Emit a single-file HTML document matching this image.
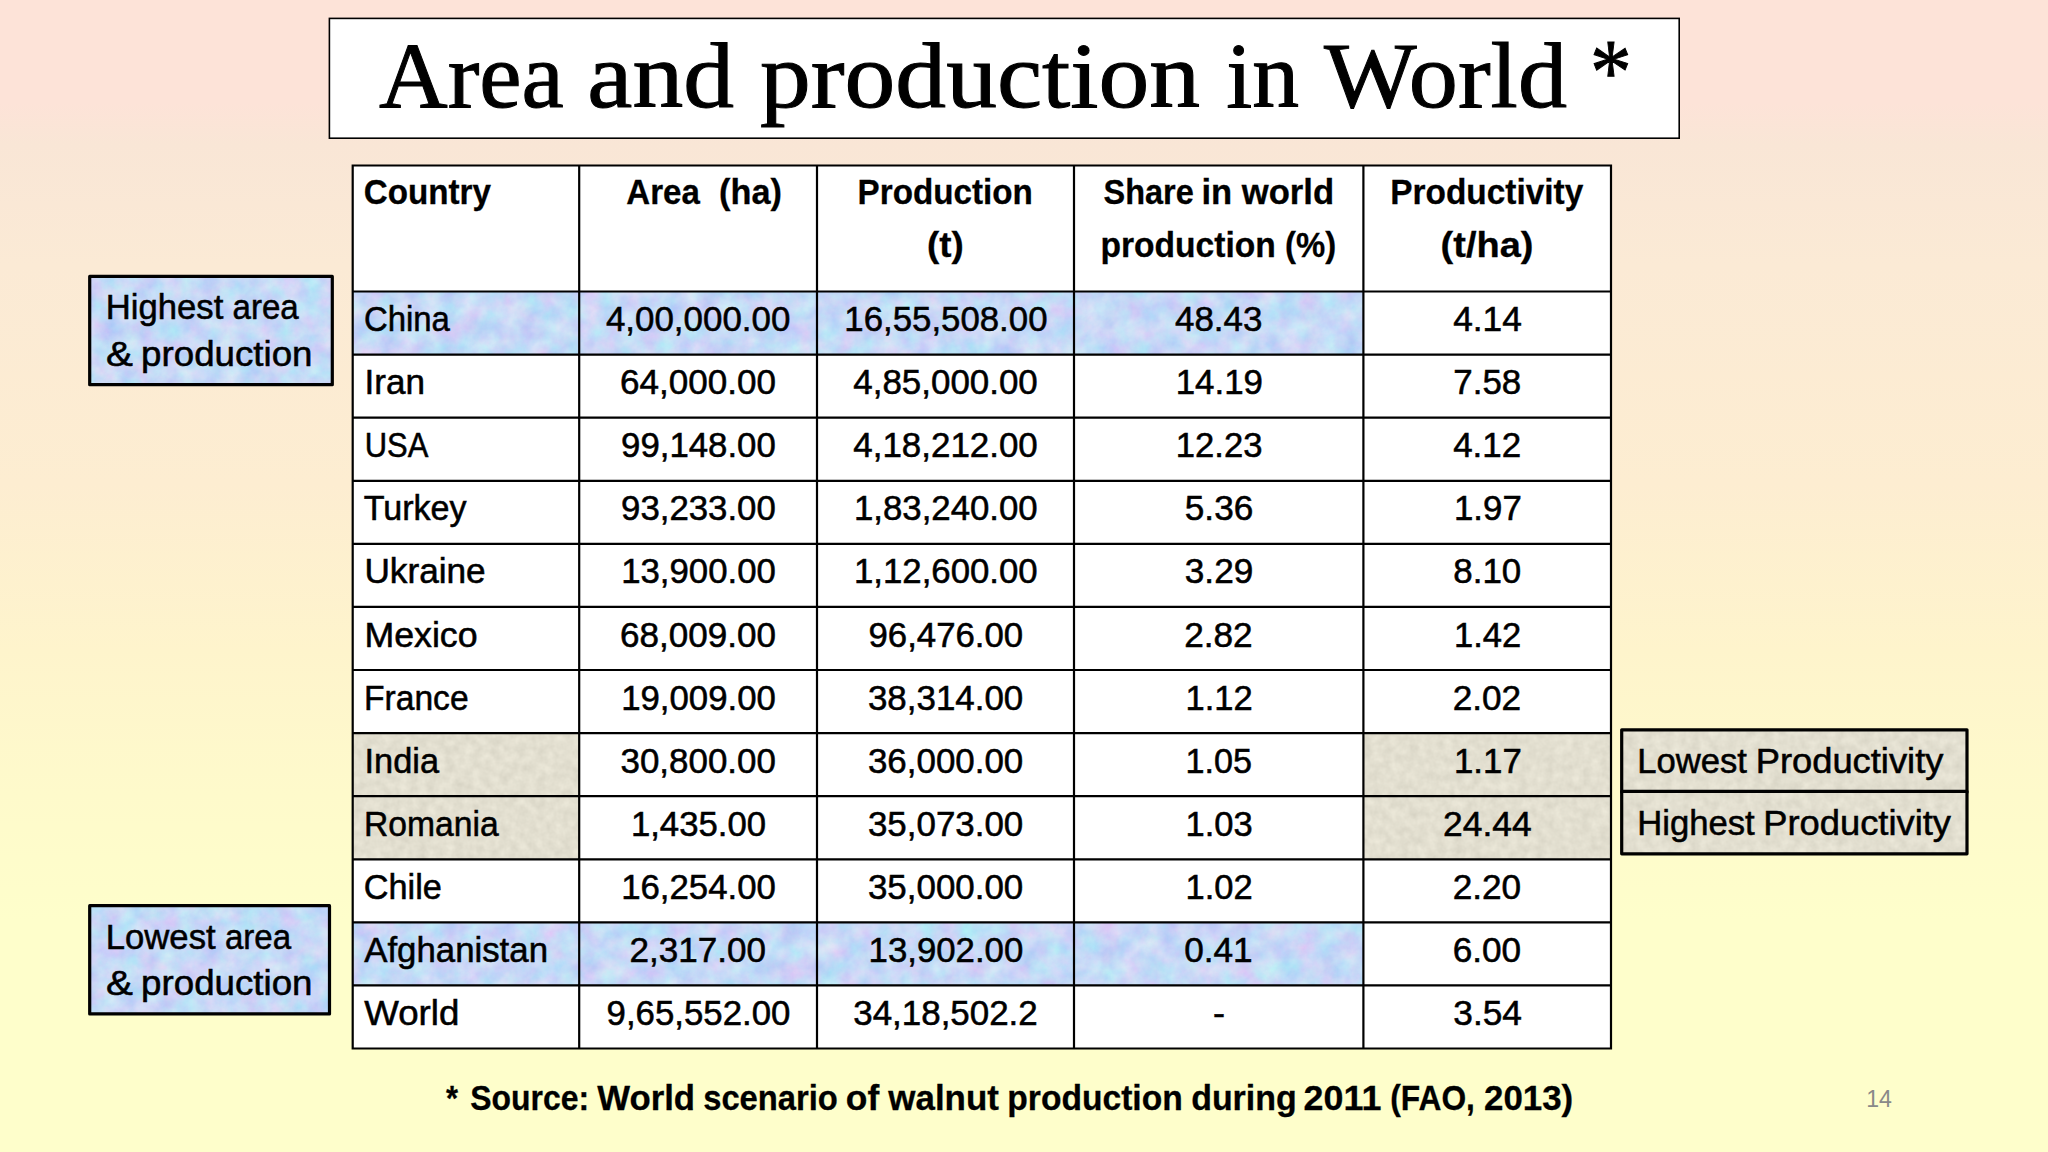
<!DOCTYPE html>
<html lang="en"><head><meta charset="utf-8"><title>Area and production in World</title>
<style>
html,body{margin:0;padding:0;width:2048px;height:1152px;overflow:hidden}
body{background:#fefecb}
svg{position:absolute;left:0;top:0;display:block}
text{white-space:pre}
.s{font-family:"Liberation Sans",sans-serif}
.t{font-family:"Liberation Serif",serif}
</style></head><body>
<svg width="2048" height="1152" viewBox="0 0 2048 1152">
<defs>
<linearGradient id="bg" x1="0" y1="0" x2="0" y2="1">
<stop offset="0" stop-color="#fde3d8"/>
<stop offset="0.09" stop-color="#fde3d8"/>
<stop offset="0.125" stop-color="#f9e6d6"/>
<stop offset="0.23" stop-color="#fbead5"/>
<stop offset="0.42" stop-color="#fdedd1"/>
<stop offset="0.565" stop-color="#fef4cc"/>
<stop offset="0.69" stop-color="#fefacb"/>
<stop offset="0.80" stop-color="#fefecb"/>
<stop offset="1" stop-color="#fefecb"/>
</linearGradient>
<filter id="fb" x="0" y="0" width="100%" height="100%" color-interpolation-filters="sRGB">
<feTurbulence type="fractalNoise" baseFrequency="0.05" numOctaves="5" seed="11" result="n"/>
<feColorMatrix in="n" type="matrix" values="0.26 0 0 0 0.645  0 0.20 0 0 0.75  0 0 0.03 0 0.952  0 0 0 0 1"/>
</filter>
<filter id="fg" x="0" y="0" width="100%" height="100%" color-interpolation-filters="sRGB">
<feTurbulence type="fractalNoise" baseFrequency="0.11" numOctaves="3" seed="3" result="n"/>
<feColorMatrix in="n" type="matrix" values="0.10 0 0 0 0.838  0.10 0 0 0 0.824  0.10 0 0 0 0.765  0 0 0 0 1"/>
</filter>
</defs>
<rect x="0" y="0" width="2048" height="1152" fill="url(#bg)"/>
<rect x="329.4" y="18.4" width="1349.8" height="119.8" fill="#fff" stroke="#000" stroke-width="1.6"/>
<rect x="352.7" y="165.5" width="1258.3" height="883.0" fill="#fff"/>
<rect x="352.7" y="291.5" width="226.5" height="63.1" fill="#c6d6f4" filter="url(#fb)"/>
<rect x="579.2" y="291.5" width="237.8" height="63.1" fill="#c6d6f4" filter="url(#fb)"/>
<rect x="817.0" y="291.5" width="257.0" height="63.1" fill="#c6d6f4" filter="url(#fb)"/>
<rect x="1074.0" y="291.5" width="289.4" height="63.1" fill="#c6d6f4" filter="url(#fb)"/>
<rect x="352.7" y="922.4" width="226.5" height="63.1" fill="#c6d6f4" filter="url(#fb)"/>
<rect x="579.2" y="922.4" width="237.8" height="63.1" fill="#c6d6f4" filter="url(#fb)"/>
<rect x="817.0" y="922.4" width="257.0" height="63.1" fill="#c6d6f4" filter="url(#fb)"/>
<rect x="1074.0" y="922.4" width="289.4" height="63.1" fill="#c6d6f4" filter="url(#fb)"/>
<rect x="352.7" y="733.1" width="226.5" height="63.1" fill="#dedbca" filter="url(#fg)"/>
<rect x="352.7" y="796.2" width="226.5" height="63.1" fill="#dedbca" filter="url(#fg)"/>
<rect x="1363.4" y="733.1" width="247.6" height="63.1" fill="#dedbca" filter="url(#fg)"/>
<rect x="1363.4" y="796.2" width="247.6" height="63.1" fill="#dedbca" filter="url(#fg)"/>
<path d="M352.7 164.4V1049.6M579.2 164.4V1049.6M817 164.4V1049.6M1074 164.4V1049.6M1363.4 164.4V1049.6M1611 164.4V1049.6M351.6 165.5H1612.1M351.6 291.5H1612.1M351.6 354.6H1612.1M351.6 417.7H1612.1M351.6 480.8H1612.1M351.6 543.8H1612.1M351.6 606.9H1612.1M351.6 670.0H1612.1M351.6 733.1H1612.1M351.6 796.2H1612.1M351.6 859.3H1612.1M351.6 922.4H1612.1M351.6 985.4H1612.1M351.6 1048.5H1612.1" fill="none" stroke="#000" stroke-width="2.2"/>
<rect x="89.7" y="276.4" width="242.6" height="108.3" fill="#c6d6f4" filter="url(#fb)"/><rect x="89.7" y="276.4" width="242.6" height="108.3" fill="none" stroke="#000" stroke-width="3.2" stroke-linejoin="round"/>
<rect x="89.7" y="905.7" width="239.8" height="108.2" fill="#c6d6f4" filter="url(#fb)"/><rect x="89.7" y="905.7" width="239.8" height="108.2" fill="none" stroke="#000" stroke-width="3.2" stroke-linejoin="round"/>
<rect x="1621.7" y="729.8" width="345.3" height="62.4" fill="#dedbca" filter="url(#fg)"/><rect x="1621.7" y="729.8" width="345.3" height="62.4" fill="none" stroke="#000" stroke-width="3.2" stroke-linejoin="round"/>
<rect x="1621.7" y="791.4" width="345.3" height="62.4" fill="#dedbca" filter="url(#fg)"/><rect x="1621.7" y="791.4" width="345.3" height="62.4" fill="none" stroke="#000" stroke-width="3.2" stroke-linejoin="round"/>
<text class="t" y="106.9" font-size="93.87" stroke="#000" stroke-width="1.0"><tspan x="379.0" textLength="184.8" lengthAdjust="spacingAndGlyphs">Area</tspan> <tspan x="587.3" textLength="146.7" lengthAdjust="spacingAndGlyphs">and</tspan> <tspan x="759.9" textLength="440.2" lengthAdjust="spacingAndGlyphs">production</tspan> <tspan x="1226.2" textLength="72.9" lengthAdjust="spacingAndGlyphs">in</tspan> <tspan x="1324.0" textLength="243.0" lengthAdjust="spacingAndGlyphs">World</tspan> <tspan x="1589.9" y="102.5" textLength="41.7" lengthAdjust="spacingAndGlyphs">*</tspan></text>
<text class="s" x="363.8" y="204.3" font-size="34.94" font-weight="700" stroke="#000" stroke-width="0.3" textLength="127.2" lengthAdjust="spacingAndGlyphs">Country</text>
<text class="s" y="204.3" font-size="34.94" font-weight="700" stroke="#000" stroke-width="0.3"><tspan x="626.3" textLength="73.5" lengthAdjust="spacingAndGlyphs">Area</tspan> <tspan x="719.1" textLength="62.8" lengthAdjust="spacingAndGlyphs">(ha)</tspan></text>
<text class="s" x="857.6" y="204.3" font-size="34.94" font-weight="700" stroke="#000" stroke-width="0.3" textLength="175.1" lengthAdjust="spacingAndGlyphs">Production</text>
<text class="s" x="927.0" y="257.3" font-size="34.94" font-weight="700" stroke="#000" stroke-width="0.3" textLength="36.7" lengthAdjust="spacingAndGlyphs">(t)</text>
<text class="s" y="204.3" font-size="34.94" font-weight="700" stroke="#000" stroke-width="0.3"><tspan x="1103.6" textLength="90.2" lengthAdjust="spacingAndGlyphs">Share</tspan> <tspan x="1201.5" textLength="30.7" lengthAdjust="spacingAndGlyphs">in</tspan> <tspan x="1241.8" textLength="92.3" lengthAdjust="spacingAndGlyphs">world</tspan></text>
<text class="s" y="257.3" font-size="34.94" font-weight="700" stroke="#000" stroke-width="0.3"><tspan x="1100.4" textLength="175.4" lengthAdjust="spacingAndGlyphs">production</tspan> <tspan x="1285.1" textLength="51.1" lengthAdjust="spacingAndGlyphs">(%)</tspan></text>
<text class="s" x="1390.3" y="204.3" font-size="34.94" font-weight="700" stroke="#000" stroke-width="0.3" textLength="193.0" lengthAdjust="spacingAndGlyphs">Productivity</text>
<text class="s" x="1440.6" y="257.3" font-size="34.94" font-weight="700" stroke="#000" stroke-width="0.3" textLength="92.9" lengthAdjust="spacingAndGlyphs">(t/ha)</text>
<text class="s" x="363.9" y="331.1" font-size="34.94" stroke="#000" stroke-width="0.55" textLength="86.0" lengthAdjust="spacingAndGlyphs">China</text>
<text class="s" x="605.9" y="331.1" font-size="34.94" stroke="#000" stroke-width="0.55" textLength="184.5" lengthAdjust="spacingAndGlyphs">4,00,000.00</text>
<text class="s" x="844.3" y="331.1" font-size="34.94" stroke="#000" stroke-width="0.55" textLength="203.2" lengthAdjust="spacingAndGlyphs">16,55,508.00</text>
<text class="s" x="1175.0" y="331.1" font-size="34.94" stroke="#000" stroke-width="0.55" textLength="87.4" lengthAdjust="spacingAndGlyphs">48.43</text>
<text class="s" x="1453.2" y="331.1" font-size="34.94" stroke="#000" stroke-width="0.55" textLength="68.6" lengthAdjust="spacingAndGlyphs">4.14</text>
<text class="s" x="364.5" y="394.2" font-size="34.94" stroke="#000" stroke-width="0.55" textLength="60.4" lengthAdjust="spacingAndGlyphs">Iran</text>
<text class="s" x="619.9" y="394.2" font-size="34.94" stroke="#000" stroke-width="0.55" textLength="156.0" lengthAdjust="spacingAndGlyphs">64,000.00</text>
<text class="s" x="853.3" y="394.2" font-size="34.94" stroke="#000" stroke-width="0.55" textLength="184.5" lengthAdjust="spacingAndGlyphs">4,85,000.00</text>
<text class="s" x="1175.7" y="394.2" font-size="34.94" stroke="#000" stroke-width="0.55" textLength="87.3" lengthAdjust="spacingAndGlyphs">14.19</text>
<text class="s" x="1453.3" y="394.2" font-size="34.94" stroke="#000" stroke-width="0.55" textLength="67.9" lengthAdjust="spacingAndGlyphs">7.58</text>
<text class="s" x="364.7" y="457.3" font-size="34.94" stroke="#000" stroke-width="0.55" textLength="63.6" lengthAdjust="spacingAndGlyphs">USA</text>
<text class="s" x="621.1" y="457.3" font-size="34.94" stroke="#000" stroke-width="0.55" textLength="154.7" lengthAdjust="spacingAndGlyphs">99,148.00</text>
<text class="s" x="853.3" y="457.3" font-size="34.94" stroke="#000" stroke-width="0.55" textLength="184.5" lengthAdjust="spacingAndGlyphs">4,18,212.00</text>
<text class="s" x="1175.8" y="457.3" font-size="34.94" stroke="#000" stroke-width="0.55" textLength="86.6" lengthAdjust="spacingAndGlyphs">12.23</text>
<text class="s" x="1453.2" y="457.3" font-size="34.94" stroke="#000" stroke-width="0.55" textLength="68.0" lengthAdjust="spacingAndGlyphs">4.12</text>
<text class="s" x="363.7" y="520.4" font-size="34.94" stroke="#000" stroke-width="0.55" textLength="102.9" lengthAdjust="spacingAndGlyphs">Turkey</text>
<text class="s" x="621.1" y="520.4" font-size="34.94" stroke="#000" stroke-width="0.55" textLength="154.7" lengthAdjust="spacingAndGlyphs">93,233.00</text>
<text class="s" x="854.0" y="520.4" font-size="34.94" stroke="#000" stroke-width="0.55" textLength="183.7" lengthAdjust="spacingAndGlyphs">1,83,240.00</text>
<text class="s" x="1184.8" y="520.4" font-size="34.94" stroke="#000" stroke-width="0.55" textLength="68.5" lengthAdjust="spacingAndGlyphs">5.36</text>
<text class="s" x="1454.0" y="520.4" font-size="34.94" stroke="#000" stroke-width="0.55" textLength="67.8" lengthAdjust="spacingAndGlyphs">1.97</text>
<text class="s" x="364.4" y="583.4" font-size="34.94" stroke="#000" stroke-width="0.55" textLength="121.3" lengthAdjust="spacingAndGlyphs">Ukraine</text>
<text class="s" x="621.2" y="583.4" font-size="34.94" stroke="#000" stroke-width="0.55" textLength="154.7" lengthAdjust="spacingAndGlyphs">13,900.00</text>
<text class="s" x="854.0" y="583.4" font-size="34.94" stroke="#000" stroke-width="0.55" textLength="183.7" lengthAdjust="spacingAndGlyphs">1,12,600.00</text>
<text class="s" x="1184.8" y="583.4" font-size="34.94" stroke="#000" stroke-width="0.55" textLength="68.5" lengthAdjust="spacingAndGlyphs">3.29</text>
<text class="s" x="1453.3" y="583.4" font-size="34.94" stroke="#000" stroke-width="0.55" textLength="68.0" lengthAdjust="spacingAndGlyphs">8.10</text>
<text class="s" x="364.4" y="646.5" font-size="34.94" stroke="#000" stroke-width="0.55" textLength="113.2" lengthAdjust="spacingAndGlyphs">Mexico</text>
<text class="s" x="619.9" y="646.5" font-size="34.94" stroke="#000" stroke-width="0.55" textLength="156.0" lengthAdjust="spacingAndGlyphs">68,009.00</text>
<text class="s" x="868.5" y="646.5" font-size="34.94" stroke="#000" stroke-width="0.55" textLength="154.7" lengthAdjust="spacingAndGlyphs">96,476.00</text>
<text class="s" x="1184.2" y="646.5" font-size="34.94" stroke="#000" stroke-width="0.55" textLength="68.5" lengthAdjust="spacingAndGlyphs">2.82</text>
<text class="s" x="1454.0" y="646.5" font-size="34.94" stroke="#000" stroke-width="0.55" textLength="67.2" lengthAdjust="spacingAndGlyphs">1.42</text>
<text class="s" x="364.0" y="709.6" font-size="34.94" stroke="#000" stroke-width="0.55" textLength="104.6" lengthAdjust="spacingAndGlyphs">France</text>
<text class="s" x="621.2" y="709.6" font-size="34.94" stroke="#000" stroke-width="0.55" textLength="154.7" lengthAdjust="spacingAndGlyphs">19,009.00</text>
<text class="s" x="867.9" y="709.6" font-size="34.94" stroke="#000" stroke-width="0.55" textLength="155.4" lengthAdjust="spacingAndGlyphs">38,314.00</text>
<text class="s" x="1185.5" y="709.6" font-size="34.94" stroke="#000" stroke-width="0.55" textLength="67.2" lengthAdjust="spacingAndGlyphs">1.12</text>
<text class="s" x="1452.7" y="709.6" font-size="34.94" stroke="#000" stroke-width="0.55" textLength="68.5" lengthAdjust="spacingAndGlyphs">2.02</text>
<text class="s" x="364.5" y="772.7" font-size="34.94" stroke="#000" stroke-width="0.55" textLength="74.5" lengthAdjust="spacingAndGlyphs">India</text>
<text class="s" x="620.5" y="772.7" font-size="34.94" stroke="#000" stroke-width="0.55" textLength="155.4" lengthAdjust="spacingAndGlyphs">30,800.00</text>
<text class="s" x="867.9" y="772.7" font-size="34.94" stroke="#000" stroke-width="0.55" textLength="155.4" lengthAdjust="spacingAndGlyphs">36,000.00</text>
<text class="s" x="1185.5" y="772.7" font-size="34.94" stroke="#000" stroke-width="0.55" textLength="66.5" lengthAdjust="spacingAndGlyphs">1.05</text>
<text class="s" x="1454.0" y="772.7" font-size="34.94" stroke="#000" stroke-width="0.55" textLength="67.8" lengthAdjust="spacingAndGlyphs">1.17</text>
<text class="s" x="364.0" y="835.8" font-size="34.94" stroke="#000" stroke-width="0.55" textLength="134.6" lengthAdjust="spacingAndGlyphs">Romania</text>
<text class="s" x="630.9" y="835.8" font-size="34.94" stroke="#000" stroke-width="0.55" textLength="135.2" lengthAdjust="spacingAndGlyphs">1,435.00</text>
<text class="s" x="867.9" y="835.8" font-size="34.94" stroke="#000" stroke-width="0.55" textLength="155.4" lengthAdjust="spacingAndGlyphs">35,073.00</text>
<text class="s" x="1185.5" y="835.8" font-size="34.94" stroke="#000" stroke-width="0.55" textLength="67.2" lengthAdjust="spacingAndGlyphs">1.03</text>
<text class="s" x="1443.0" y="835.8" font-size="34.94" stroke="#000" stroke-width="0.55" textLength="88.6" lengthAdjust="spacingAndGlyphs">24.44</text>
<text class="s" x="363.8" y="898.9" font-size="34.94" stroke="#000" stroke-width="0.55" textLength="78.1" lengthAdjust="spacingAndGlyphs">Chile</text>
<text class="s" x="621.2" y="898.9" font-size="34.94" stroke="#000" stroke-width="0.55" textLength="154.7" lengthAdjust="spacingAndGlyphs">16,254.00</text>
<text class="s" x="867.9" y="898.9" font-size="34.94" stroke="#000" stroke-width="0.55" textLength="155.4" lengthAdjust="spacingAndGlyphs">35,000.00</text>
<text class="s" x="1185.5" y="898.9" font-size="34.94" stroke="#000" stroke-width="0.55" textLength="67.2" lengthAdjust="spacingAndGlyphs">1.02</text>
<text class="s" x="1452.7" y="898.9" font-size="34.94" stroke="#000" stroke-width="0.55" textLength="68.5" lengthAdjust="spacingAndGlyphs">2.20</text>
<text class="s" x="364.2" y="962.0" font-size="34.94" stroke="#000" stroke-width="0.55" textLength="183.8" lengthAdjust="spacingAndGlyphs">Afghanistan</text>
<text class="s" x="629.6" y="962.0" font-size="34.94" stroke="#000" stroke-width="0.55" textLength="136.5" lengthAdjust="spacingAndGlyphs">2,317.00</text>
<text class="s" x="868.6" y="962.0" font-size="34.94" stroke="#000" stroke-width="0.55" textLength="154.7" lengthAdjust="spacingAndGlyphs">13,902.00</text>
<text class="s" x="1184.2" y="962.0" font-size="34.94" stroke="#000" stroke-width="0.55" textLength="68.5" lengthAdjust="spacingAndGlyphs">0.41</text>
<text class="s" x="1452.7" y="962.0" font-size="34.94" stroke="#000" stroke-width="0.55" textLength="68.5" lengthAdjust="spacingAndGlyphs">6.00</text>
<text class="s" x="364.2" y="1025.0" font-size="34.94" stroke="#000" stroke-width="0.55" textLength="95.1" lengthAdjust="spacingAndGlyphs">World</text>
<text class="s" x="606.6" y="1025.0" font-size="34.94" stroke="#000" stroke-width="0.55" textLength="183.8" lengthAdjust="spacingAndGlyphs">9,65,552.00</text>
<text class="s" x="853.3" y="1025.0" font-size="34.94" stroke="#000" stroke-width="0.55" textLength="184.4" lengthAdjust="spacingAndGlyphs">34,18,502.2</text>
<text class="s" x="1212.9" y="1025.0" font-size="34.94" stroke="#000" stroke-width="0.55" textLength="12.0" lengthAdjust="spacingAndGlyphs">-</text>
<text class="s" x="1453.3" y="1025.0" font-size="34.94" stroke="#000" stroke-width="0.55" textLength="68.6" lengthAdjust="spacingAndGlyphs">3.54</text>
<text class="s" y="319.2" font-size="34.94" stroke="#000" stroke-width="0.55"><tspan x="105.8" textLength="117.5" lengthAdjust="spacingAndGlyphs">Highest</tspan> <tspan x="232.5" textLength="66.2" lengthAdjust="spacingAndGlyphs">area</tspan></text>
<text class="s" y="365.8" font-size="34.94" stroke="#000" stroke-width="0.55"><tspan x="106.0" textLength="26.9" lengthAdjust="spacingAndGlyphs">&amp;</tspan> <tspan x="141.1" textLength="171.4" lengthAdjust="spacingAndGlyphs">production</tspan></text>
<text class="s" y="948.6" font-size="34.94" stroke="#000" stroke-width="0.55"><tspan x="105.8" textLength="109.8" lengthAdjust="spacingAndGlyphs">Lowest</tspan> <tspan x="224.9" textLength="66.2" lengthAdjust="spacingAndGlyphs">area</tspan></text>
<text class="s" y="995.2" font-size="34.94" stroke="#000" stroke-width="0.55"><tspan x="106.0" textLength="26.9" lengthAdjust="spacingAndGlyphs">&amp;</tspan> <tspan x="141.1" textLength="171.4" lengthAdjust="spacingAndGlyphs">production</tspan></text>
<text class="s" y="773.4" font-size="34.94" stroke="#000" stroke-width="0.55"><tspan x="1637.2" textLength="109.8" lengthAdjust="spacingAndGlyphs">Lowest</tspan> <tspan x="1755.7" textLength="187.7" lengthAdjust="spacingAndGlyphs">Productivity</tspan></text>
<text class="s" y="834.9" font-size="34.94" stroke="#000" stroke-width="0.55"><tspan x="1637.2" textLength="117.5" lengthAdjust="spacingAndGlyphs">Highest</tspan> <tspan x="1763.3" textLength="187.7" lengthAdjust="spacingAndGlyphs">Productivity</tspan></text>
<text class="s" y="1110.1" font-size="34.94" font-weight="700" stroke="#000" stroke-width="0.3"><tspan x="445.9" textLength="12.0" lengthAdjust="spacingAndGlyphs">*</tspan> <tspan x="470.2" textLength="118.9" lengthAdjust="spacingAndGlyphs">Source:</tspan> <tspan x="597.3" textLength="97.8" lengthAdjust="spacingAndGlyphs">World</tspan> <tspan x="703.2" textLength="134.7" lengthAdjust="spacingAndGlyphs">scenario</tspan> <tspan x="845.8" textLength="33.4" lengthAdjust="spacingAndGlyphs">of</tspan> <tspan x="888.3" textLength="110.6" lengthAdjust="spacingAndGlyphs">walnut</tspan> <tspan x="1007.3" textLength="175.4" lengthAdjust="spacingAndGlyphs">production</tspan> <tspan x="1191.2" textLength="105.5" lengthAdjust="spacingAndGlyphs">during</tspan> <tspan x="1303.6" textLength="77.8" lengthAdjust="spacingAndGlyphs">2011</tspan> <tspan x="1390.3" textLength="84.6" lengthAdjust="spacingAndGlyphs">(FAO,</tspan> <tspan x="1484.0" textLength="89.2" lengthAdjust="spacingAndGlyphs">2013)</tspan></text>
<text class="s" x="1866.2" y="1107.2" font-size="23.30" fill="#898989" textLength="25.7" lengthAdjust="spacingAndGlyphs">14</text>
</svg>
</body></html>
